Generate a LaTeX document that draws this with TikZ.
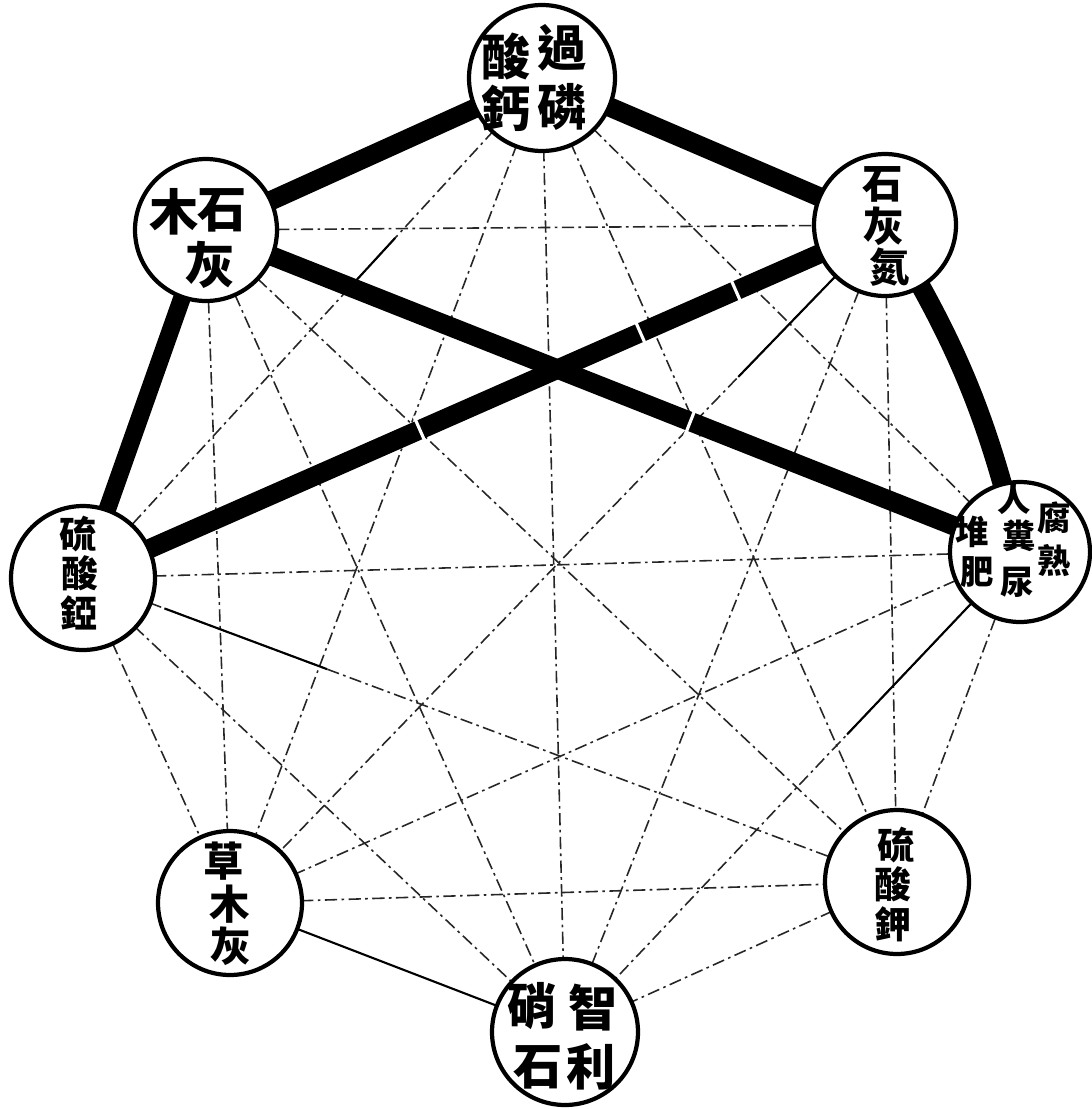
\documentclass[tikz,border=0pt]{standalone}
\usepackage{fontspec}
\newfontfamily\cjk{Noto Sans CJK TC}
\usetikzlibrary{calc}
\pgfdeclarelayer{bg}
\pgfsetlayers{bg,main}
\begin{document}
\begin{tikzpicture}[x=0.02cm,y=-0.02cm,
 ring/.style={circle,draw,line width=2.4pt,fill=white,inner sep=0pt,minimum size=#1},
 ch/.style={inner sep=0pt,font=\cjk\bfseries\fontsize{#1}{#1}\selectfont},
 thickband/.style={line width=11pt,line cap=butt},
 thinline/.style={line width=0.9pt,black!85,dash pattern=on 7pt off 2.5pt on 1.5pt off 2.5pt},
 thinsolid/.style={line width=1.2pt,black},
 gapbar/.style={white,line width=1.8pt}]
\useasboundingbox (0,0) rectangle (1092,1109);

% circles
\node[ring=2.92cm] (A) at (542,78) {};
\node[ring=2.84cm] (B) at (206,230) {};
\node[ring=2.84cm] (C) at (885,225) {};
\node[ring=2.88cm] (D) at (83,578) {};
\node[ring=2.80cm] (E) at (1020,552) {};
\node[ring=2.88cm] (F) at (230,903) {};
\node[ring=2.88cm] (G) at (897,882) {};
\node[ring=2.92cm] (H) at (565,1032) {};

% texts
\node[ch=28] (A1) at (562,48) {過};
\node[ch=28] (A2) at (562,107) {磷};
\node[ch=28] (A3) at (506,57) {酸};
\node[ch=28] (A4) at (506,108) {鈣};

\node[ch=28] (B1) at (174,212) {木};
\node[ch=28] (B2) at (222,210) {石};
\node[ch=28] (B3) at (210,265) {灰};

\node[ch=23] (C1) at (883,184) {石};
\node[ch=23] (C2) at (884,226) {灰};
\node[ch=23] (C3) at (890,267) {氮};

\node[ch=21] (D1) at (78,534) {硫};
\node[ch=21] (D2) at (80,573) {酸};
\node[ch=21] (D3) at (79,613) {錏};

\node[ch=19] (E1) at (1054,518) {腐};
\node[ch=19] (E2) at (1054,561) {熟};
\node[ch=19] (E3) at (1014,499) {人};
\node[ch=19] (E4) at (1019,536) {糞};
\node[ch=19] (E5) at (1017,582) {尿};
\node[ch=19] (E6) at (972,532) {堆};
\node[ch=19] (E7) at (977,572) {肥};

\node[ch=23] (F1) at (224,861) {草};
\node[ch=23] (F2) at (230,904) {木};
\node[ch=23] (F3) at (231,946) {灰};

\node[ch=21] (G1) at (896,845) {硫};
\node[ch=21] (G2) at (893,884) {酸};
\node[ch=21] (G3) at (893,924) {鉀};

\node[ch=28] (H1) at (593,1008) {智};
\node[ch=28] (H2) at (591,1067) {利};
\node[ch=28] (H3) at (532,1006) {硝};
\node[ch=28] (H4) at (538,1067) {石};

\begin{pgfonlayer}{bg}
\fill[white] (0,0) rectangle (1092,1109);
% thin connectors
\foreach \p/\q in {A/D,A/E,A/F,A/G,A/H,B/C,B/F,B/G,B/H,C/F,C/G,C/H,D/E,D/F,D/G,D/H,E/F,E/G,E/H,F/G,G/H}
  \draw[thinline] (\p.center) -- (\q.center);
\draw[thinsolid] (F.center) -- (H.center);
% solid stretches of thin connectors
\draw[thinsolid] (E.center) -- ($(E.center)!0.38!(H.center)$);
\draw[thinsolid] (C.center) -- ($(C.center)!0.224!(F.center)$);
\draw[thinsolid] ($(A.center)!0.32!(D.center)$) -- ($(A.center)!0.42!(D.center)$);
\draw[thinsolid] ($(D.center)!0.1!(G.center)$) -- ($(D.center)!0.3!(G.center)$);
% thick connectors
\draw[thickband] (A.center) -- (B.center);
\draw[thickband] (A.center) -- (C.center);
\draw[thickband,line width=10pt] (B.center) -- (D.center);
\draw[thickband] (B.center) -- (E.center);
\draw[thickband] (C.center) -- (D.center);
\draw[thickband] (C.center) to[bend left=9] (E.center);
% small breaks in the thick bands
\path (C.center) -- (D.center)
  coordinate[pos=0.58] (g1) coordinate[pos=0.59] (g1b)
  coordinate[pos=0.305] (g2) coordinate[pos=0.315] (g2b)
  coordinate[pos=0.186] (g3) coordinate[pos=0.196] (g3b);
\path (B.center) -- (E.center)
  coordinate[pos=0.595] (g4) coordinate[pos=0.605] (g4b);
\foreach \g in {g1,g2,g3,g4}
  \draw[gapbar] ($(\g)!0.3cm!90:(\g b)$) -- ($(\g)!0.3cm!-90:(\g b)$);
\end{pgfonlayer}
\end{tikzpicture}
\end{document}
